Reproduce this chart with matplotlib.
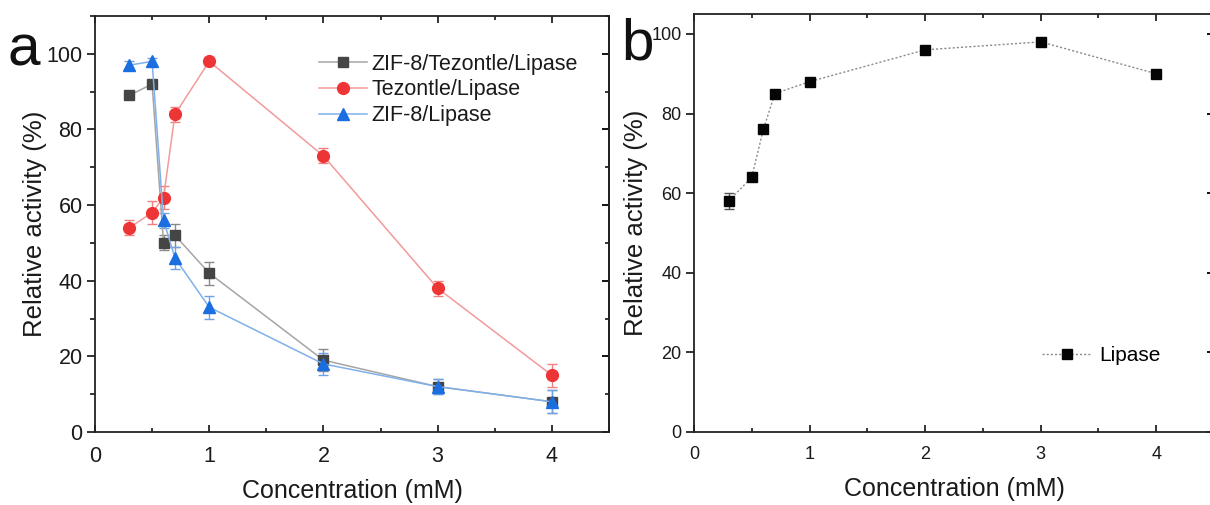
import matplotlib
matplotlib.use("Agg")
import matplotlib.pyplot as plt
from matplotlib.ticker import MultipleLocator

plt.rcParams['font.family'] = ['Liberation Sans', 'DejaVu Sans']

# ---------------- data ----------------
conc = [0.3, 0.5, 0.6, 0.7, 1, 2, 3, 4]

zif_tez = [89, 92, 50, 52, 42, 19, 12, 8]
zif_tez_err = [1, 1, 2, 3, 3, 3, 2, 3]

tez = [54, 58, 62, 84, 98, 73, 38, 15]
tez_err = [2, 3, 3, 2, 1, 2, 2, 3]

zif = [97, 98, 56, 46, 33, 18, 12, 8]
zif_err = [1, 1, 2, 3, 3, 3, 2, 3]

lipase = [58, 64, 76, 85, 88, 96, 98, 90]
lipase_err = [2, 0, 0, 0, 0, 0, 0, 0]

labels_a = ["ZIF-8/Tezontle/Lipase", "Tezontle/Lipase", "ZIF-8/Lipase"]
label_b = "Lipase"
xlabel = "Concentration (mM)"
ylabel = "Relative activity (%)"

W, H = 1210, 505
fig = plt.figure(figsize=(W / 100, H / 100), dpi=100)

axa = fig.add_axes([95 / W, 1 - 432 / H, (609 - 95) / W, (432 - 16) / H])
axb = fig.add_axes([694 / W, 1 - 432 / H, (1214 - 694) / W, (432 - 14) / H])


def style_axis(ax, ymax, tsize, family, left_minor):
    ax.set_xlim(0, 4.5)
    ax.set_ylim(0, ymax)
    ax.xaxis.set_major_locator(MultipleLocator(1))
    ax.xaxis.set_minor_locator(MultipleLocator(0.5))
    ax.yaxis.set_major_locator(MultipleLocator(20))
    ax.yaxis.set_minor_locator(MultipleLocator(10))
    for s in ax.spines.values():
        s.set_linewidth(1.3)
        s.set_color('#222222')
    ax.tick_params(axis='x', which='major', direction='in', length=5, width=1.3,
                   top=True, bottom=True, labelsize=tsize, pad=10, colors='#222222')
    ax.tick_params(axis='x', which='minor', direction='in', length=3, width=1.1,
                   top=True, bottom=True)
    ax.tick_params(axis='y', which='major', direction='out', length=6, width=1.3,
                   left=True, right=False, labelsize=tsize, pad=3, colors='#222222')
    ax.tick_params(axis='y', which='minor', direction='out', length=3.5, width=1.1,
                   left=left_minor, right=False)
    for lab in ax.get_xticklabels() + ax.get_yticklabels():
        lab.set_family(family)
        lab.set_color('#1a1a1a')
    # right-side inward ticks
    sec = ax.secondary_yaxis('right')
    sec.yaxis.set_major_locator(MultipleLocator(20))
    sec.yaxis.set_minor_locator(MultipleLocator(10))
    sec.tick_params(which='major', direction='in', length=5, width=1.3, labelright=False)
    sec.tick_params(which='minor', direction='in', length=3, width=1.1)
    sec.spines['right'].set_linewidth(1.3)
    sec.spines['right'].set_color('#222222')


# ---------------- panel a ----------------
series = [
    (zif_tez, zif_tez_err, 's', '#454545', '#a5a5a5', '#8a8a8a', 7.5, labels_a[0]),
    (tez, tez_err, 'o', '#ee3535', '#f39a9a', '#f08080', 8.5, labels_a[1]),
    (zif, zif_err, '^', '#1a6ee0', '#7fb0ea', '#6fa3e6', 8.5, labels_a[2]),
]
handles = []
for y, e, m, mc, lc, ec, ms, lab in series:
    axa.errorbar(conc, y, yerr=e, fmt='none', ecolor=ec, elinewidth=1.0,
                 capsize=3.5, capthick=1.0, zorder=2)
    h, = axa.plot(conc, y, marker=m, color=lc, markerfacecolor=mc,
                  markeredgecolor=mc, markersize=ms, linewidth=1.1, label=lab, zorder=3)
    handles.append(h)

style_axis(axa, 110, 15.5, 'Liberation Sans', True)
axa.set_xlabel(xlabel, fontsize=18, color='#1a1a1a')
axa.xaxis.set_label_coords(0.5, -(479 - 432) / 416)
axa.set_ylabel(ylabel, fontsize=18.5, color='#1a1a1a')
axa.yaxis.set_label_coords(-0.094, 0.5)

lega = axa.legend(handles=handles, loc='upper left', bbox_to_anchor=(0.42, 0.93),
                  frameon=False, fontsize=15.5, handlelength=2.2, handletextpad=0.2,
                  labelspacing=0.22, borderaxespad=0)
for t in lega.get_texts():
    t.set_color('#1a1a1a')

fig.text(8 / W, 1 - 50 / H, 'a', fontsize=42, va='center', ha='left', color='#111111')

# ---------------- panel b ----------------
axb.errorbar(conc, lipase, yerr=lipase_err, fmt='none', ecolor='#555555',
             elinewidth=1.0, capsize=3.5, capthick=1.0, zorder=2)
hb, = axb.plot(conc, lipase, marker='s', color='#8a8a8a', markerfacecolor='#050505',
               markeredgecolor='#050505', markersize=7.5, linewidth=1.0,
               linestyle=(0, (1.5, 1.5)), label=label_b, zorder=3)

style_axis(axb, 105, 13, ['Liberation Sans Narrow', 'Liberation Sans'], False)
axb.set_xlabel(xlabel, fontsize=18, color='#1a1a1a')
axb.xaxis.set_label_coords(0.5, -(477 - 432) / 418)
axb.set_ylabel(ylabel, fontsize=18.5, color='#1a1a1a')
axb.yaxis.set_label_coords(-0.088, 0.5)

legb = axb.legend(handles=[hb], loc='center left', bbox_to_anchor=(0.653, 0.183),
                  frameon=False, fontsize=15, handlelength=2.4, handletextpad=0.35,
                  borderaxespad=0)

fig.text(621 / W, 1 - 45 / H, 'b', fontsize=42, va='center', ha='left', color='#111111')

fig.savefig('out.png', dpi=100)
